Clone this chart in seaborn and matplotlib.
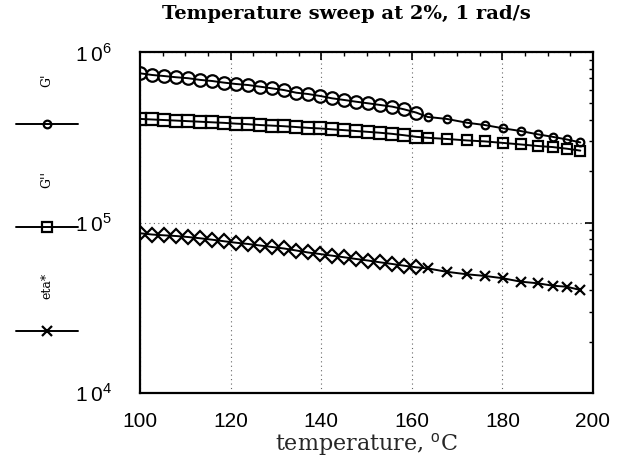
import numpy as np
import pandas as pd
import matplotlib
matplotlib.use("Agg")
import matplotlib.pyplot as plt
import seaborn as sns
from matplotlib.lines import Line2D
from matplotlib.ticker import LogLocator, MultipleLocator, NullFormatter

# dense part of the sweep (big markers)
temp_dense = [100, 102.7, 105.3, 108, 110.6, 113.3, 115.9, 118.6, 121.2, 123.9, 126.5, 129.2,
              131.8, 134.5, 137.1, 139.8, 142.4, 145.1, 147.7, 150.4, 153, 155.7, 158.3, 161]
gp_dense = [7.50e5, 7.33e5, 7.23e5, 7.11e5, 7.02e5, 6.86e5, 6.76e5, 6.61e5, 6.49e5, 6.40e5, 6.26e5, 6.12e5,
            5.98e5, 5.77e5, 5.67e5, 5.52e5, 5.35e5, 5.23e5, 5.11e5, 5.00e5, 4.89e5, 4.78e5, 4.61e5, 4.41e5]
gpp_dense = [4.05e5, 4.02e5, 3.99e5, 3.96e5, 3.93e5, 3.90e5, 3.87e5, 3.84e5, 3.80e5, 3.77e5, 3.73e5, 3.70e5,
             3.67e5, 3.63e5, 3.59e5, 3.56e5, 3.52e5, 3.48e5, 3.44e5, 3.40e5, 3.36e5, 3.31e5, 3.25e5, 3.18e5]
eta_dense = [8.65e4, 8.50e4, 8.41e4, 8.33e4, 8.22e4, 8.08e4, 7.93e4, 7.76e4, 7.61e4, 7.48e4, 7.33e4, 7.18e4,
             7.04e4, 6.85e4, 6.67e4, 6.53e4, 6.39e4, 6.25e4, 6.11e4, 5.98e4, 5.84e4, 5.71e4, 5.58e4, 5.46e4]

# sparse part (small markers)
temp_sparse = [163.5, 167.7, 172.1, 176.1, 180.1, 184.0, 187.8, 191.1, 194.2, 197.2]
gp_sparse = [4.16e5, 4.05e5, 3.85e5, 3.73e5, 3.57e5, 3.44e5, 3.29e5, 3.18e5, 3.07e5, 2.95e5]
gpp_sparse = [3.14e5, 3.09e5, 3.03e5, 2.99e5, 2.93e5, 2.87e5, 2.81e5, 2.77e5, 2.71e5, 2.64e5]
eta_sparse = [5.38e4, 5.14e4, 4.97e4, 4.86e4, 4.71e4, 4.50e4, 4.40e4, 4.26e4, 4.20e4, 4.02e4]

x_ticks = [100, 120, 140, 160, 180, 200]
y_ticks = [1e4, 1e5, 1e6]

sns.set_style("white")
plt.rcParams['font.family'] = ['Liberation Sans', 'DejaVu Sans']
plt.rcParams['text.color'] = 'black'
plt.rcParams['xtick.color'] = 'black'
plt.rcParams['ytick.color'] = 'black'
plt.rcParams['mathtext.fontset'] = 'custom'
plt.rcParams['mathtext.rm'] = 'Liberation Sans'

fig = plt.figure(figsize=(6.19, 4.58), dpi=100)
ax = fig.add_axes([140 / 619, 1 - 393 / 458, 453 / 619, 341 / 458])

series = [
    (gp_dense, gp_sparse, 'o', 9, 'o', 5.5),
    (gpp_dense, gpp_sparse, 's', 8, 's', 7),
    (eta_dense, eta_sparse, 'D', 7.5, 'x', 7),
]
for dense, sparse, m1, s1, m2, s2 in series:
    df = pd.DataFrame({'T': temp_dense + temp_sparse, 'v': dense + sparse})
    sns.lineplot(data=df, x='T', y='v', color='black', lw=1.4, ax=ax, sort=False)
    sns.lineplot(x=temp_dense, y=dense, marker=m1, markersize=s1, linestyle='none',
                 mfc='none', mec='black', mew=1.6, ax=ax)
    sns.lineplot(x=temp_sparse, y=sparse, marker=m2, markersize=s2, linestyle='none',
                 mfc='none', mec='black', mew=1.6, color='black', ax=ax)

ax.set_yscale('log')
ax.set_xlim(100, 200)
ax.set_ylim(1e4, 1e6)
ax.set_xticks(x_ticks)
ax.set_xticklabels([str(t) for t in x_ticks])
ax.xaxis.set_minor_locator(MultipleLocator(5))
ax.yaxis.set_minor_locator(LogLocator(base=10, subs=np.arange(2, 10), numticks=20))
ax.yaxis.set_minor_formatter(NullFormatter())
ax.set_yticks(y_ticks)
ax.set_yticklabels(['1\u20090$^{%d}$' % int(np.log10(v)) for v in y_ticks])
ax.tick_params(which='both', direction='in', top=True, right=True, color='black')
ax.tick_params(which='major', length=6, width=1.2, labelsize=15)
ax.tick_params(axis='x', which='major', pad=14)
ax.tick_params(axis='y', which='major', pad=20)
ax.tick_params(which='minor', length=3, width=1.0)
ax.grid(True, which='major', linestyle=(0, (1, 3)), color='#666666', lw=0.8)
for sp in ax.spines.values():
    sp.set_color('black')
    sp.set_linewidth(1.6)

ax.set_xlabel('temperature, $^{\\rm o}$C', family='DejaVu Serif', fontsize=16, labelpad=0)
ax.set_ylabel('')
ax.set_title('Temperature sweep at 2%, 1 rad/s', family='DejaVu Serif', fontweight='bold',
             fontsize=14, pad=24, x=0.455)

# hand-made legend on the left
leg = [("G'", 'o', 5.5, 80, 124), ("G''", 's', 7, 180, 227), ("eta*", 'x', 7, 286, 331)]
for label, m, ms, ty, ly in leg:
    yl = 1 - ly / 458
    fig.add_artist(Line2D([16 / 619, 78 / 619], [yl, yl], color='black', lw=1.4))
    fig.add_artist(Line2D([47 / 619], [yl], marker=m, markersize=ms, mfc='none',
                          mec='black', mew=1.6, linestyle='none'))
    fig.text(47 / 619, 1 - ty / 458, label, rotation=90, ha='center', va='center',
             family='DejaVu Serif', fontsize=9)

fig.savefig('out.png', dpi=100)
